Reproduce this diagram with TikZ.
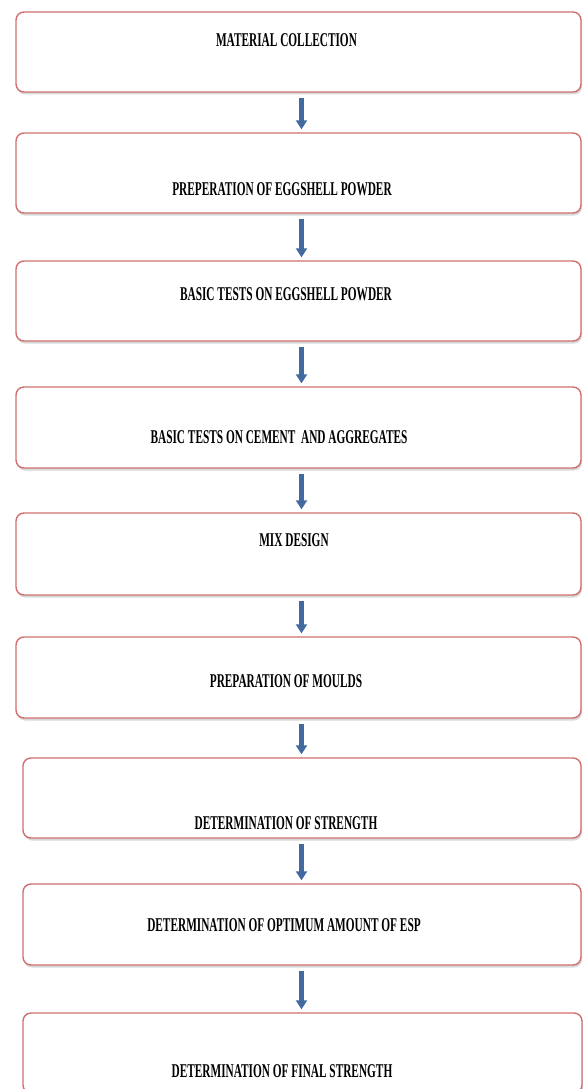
\documentclass[tikz,border=0pt]{standalone}
\usepackage{fontspec}
\setmainfont{Liberation Serif}[FakeStretch=0.58]
\usetikzlibrary{arrows.meta,shadows}
\definecolor{boxRed}{RGB}{208,112,110}
\definecolor{arrowBlue}{RGB}{66,106,160}

\tikzset{
  stepbox/.style={draw=boxRed, line width=1.4pt, fill=white, rounded corners=8pt,
    drop shadow={shadow xshift=1pt, shadow yshift=-2.5pt, opacity=0.3, fill=gray}},
  steptext/.style={inner sep=0pt, font=\fontsize{19.5}{20}\selectfont\bfseries},
  flowarrow/.style={arrowBlue, line width=5pt, shorten <=5pt, shorten >=3pt,
    -{Triangle[width=11pt,length=9pt]}}
}

\begin{document}
\begin{tikzpicture}[x=1pt,y=-1pt]
        \useasboundingbox (0,0) rectangle (583,1089);

        % process boxes
        \node[stepbox, minimum width=565pt, minimum height=80pt] (b1) at (298.5,52) {};
        \node[stepbox, minimum width=565pt, minimum height=80pt] (b2) at (298.5,173) {};
        \node[stepbox, minimum width=565pt, minimum height=80pt] (b3) at (298.5,301) {};
        \node[stepbox, minimum width=565pt, minimum height=81pt] (b4) at (298.5,427.5) {};
        \node[stepbox, minimum width=565pt, minimum height=82pt] (b5) at (298.5,554) {};
        \node[stepbox, minimum width=565pt, minimum height=81pt] (b6) at (298.5,677.5) {};
        \node[stepbox, minimum width=558pt, minimum height=80pt] (b7) at (302,798) {};
        \node[stepbox, minimum width=558pt, minimum height=81pt] (b8) at (302,924.5) {};
        \node[stepbox, minimum width=559pt, minimum height=80pt] (b9) at (302.5,1053) {};

        % box texts
        \node[steptext] (t1) at (286.5,40) {MATERIAL COLLECTION};
        \node[steptext] (t2) at (282,189) {PREPERATION OF EGGSHELL POWDER};
        \node[steptext] (t3) at (286,294) {BASIC TESTS ON EGGSHELL POWDER};
        \node[steptext] (t4) at (279,437) {BASIC TESTS ON CEMENT\ \ AND AGGREGATES};
        \node[steptext] (t5) at (294,540) {MIX DESIGN};
        \node[steptext] (t6) at (286,681) {PREPARATION OF MOULDS};
        \node[steptext] (t7) at (286,823) {DETERMINATION OF STRENGTH};
        \node[steptext] (t8) at (284,925) {DETERMINATION OF OPTIMUM AMOUNT OF ESP};
        \node[steptext] (t9) at (282,1071) {DETERMINATION OF FINAL STRENGTH};

        % arrows between steps
        \coordinate (ax) at (301.5,0);
        \draw[flowarrow] (b1.south -| ax) -- (b2.north -| ax);
        \draw[flowarrow] (b2.south -| ax) -- (b3.north -| ax);
        \draw[flowarrow] (b3.south -| ax) -- (b4.north -| ax);
        \draw[flowarrow] (b4.south -| ax) -- (b5.north -| ax);
        \draw[flowarrow] (b5.south -| ax) -- (b6.north -| ax);
        \draw[flowarrow] (b6.south -| ax) -- (b7.north -| ax);
        \draw[flowarrow] (b7.south -| ax) -- (b8.north -| ax);
        \draw[flowarrow] (b8.south -| ax) -- (b9.north -| ax);
      \end{tikzpicture}
\end{document}
